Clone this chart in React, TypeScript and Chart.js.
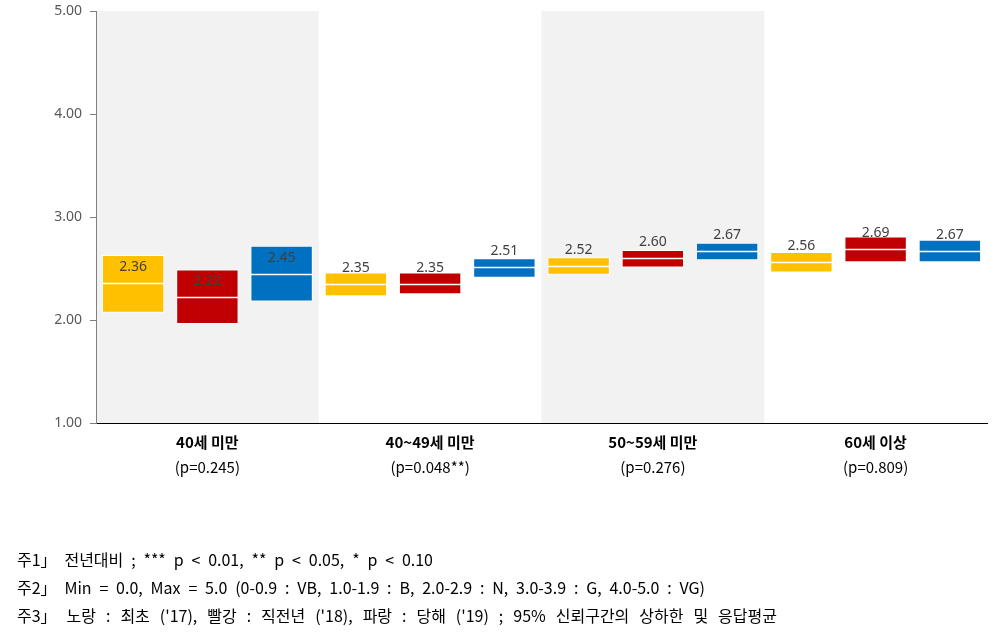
import React, { useEffect, useRef } from 'react';
import { Chart, registerables } from 'chart.js';

Chart.register(...registerables);

const categories = ['40세 미만', '40~49세 미만', '50~59세 미만', '60세 이상'];
const pValues = ['(p=0.245)', '(p=0.048**)', '(p=0.276)', '(p=0.809)'];
const shadedCategories = [0, 2];

const seriesNames = ["최초 ('17)", "직전년 ('18)", "당해 ('19)"];
const seriesColors = ['#FFC000', '#C00000', '#0070C0'];

const mean2017 = [2.36, 2.35, 2.52, 2.56];
const low2017 = [2.07, 2.23, 2.44, 2.46];
const high2017 = [2.63, 2.46, 2.61, 2.66];

const mean2018 = [2.22, 2.35, 2.60, 2.69];
const low2018 = [1.96, 2.25, 2.51, 2.56];
const high2018 = [2.49, 2.46, 2.68, 2.81];

const mean2019 = [2.45, 2.51, 2.67, 2.67];
const low2019 = [2.18, 2.41, 2.58, 2.56];
const high2019 = [2.72, 2.60, 2.75, 2.78];

const yTicks = [1, 2, 3, 4, 5];

const footnotes = [
  '주1」 전년대비 ; *** p < 0.01, ** p < 0.05, * p < 0.10',
  '주2」 Min = 0.0, Max = 5.0 (0-0.9 : VB, 1.0-1.9 : B, 2.0-2.9 : N, 3.0-3.9 : G, 4.0-5.0 : VG)',
  "주3」 노랑 : 최초 ('17), 빨강 : 직전년 ('18), 파랑 : 당해 ('19) ; 95% 신뢰구간의 상하한 및 응답평균",
];
const footnoteRight = [433, 705, 777];

const KFONT = "'Noto Sans CJK KR', 'Noto Sans', sans-serif";
const NFONT = "'Noto Sans CJK KR', sans-serif";

export default function App() {
  const ref = useRef<HTMLCanvasElement>(null);

  useEffect(() => {
    const canvas = ref.current;
    if (!canvas) return;
    const lows = [low2017, low2018, low2019];
    const highs = [high2017, high2018, high2019];
    const means = [mean2017, mean2018, mean2019];

    const bandPlugin = {
      id: 'bands',
      beforeDraw(chart: any) {
        const { ctx, chartArea, scales } = chart;
        const x = scales.x;
        const w = (chartArea.right - chartArea.left) / categories.length;
        ctx.save();
        ctx.fillStyle = '#F2F2F2';
        shadedCategories.forEach((i) => {
          const cx = x.getPixelForValue(i);
          ctx.fillRect(cx - w / 2, chartArea.top, w, chartArea.bottom - chartArea.top);
        });
        ctx.restore();
      },
    };

    const meanPlugin = {
      id: 'means',
      afterDatasetsDraw(chart: any) {
        const { ctx, scales } = chart;
        const y = scales.y;
        ctx.save();
        means.forEach((arr, i) => {
          const meta = chart.getDatasetMeta(i);
          meta.data.forEach((bar: any, j: number) => {
            const p = bar.getProps(['x', 'width'], true);
            const yy = Math.round(y.getPixelForValue(arr[j])) + 0.5;
            ctx.strokeStyle = '#FFFFFF';
            ctx.lineWidth = 1.5;
            ctx.beginPath();
            ctx.moveTo(p.x - p.width / 2, yy);
            ctx.lineTo(p.x + p.width / 2, yy);
            ctx.stroke();
            ctx.fillStyle = '#404040';
            ctx.font = "14px 'Noto Sans', sans-serif";
            ctx.textAlign = 'center';
            ctx.textBaseline = 'middle';
            ctx.fillText(arr[j].toFixed(2), p.x, yy - 16);
          });
        });
        ctx.restore();
      },
    };

    const textPlugin = {
      id: 'texts',
      afterDraw(chart: any) {
        const { ctx, scales } = chart;
        const x = scales.x;
        ctx.save();
        ctx.fillStyle = '#000000';
        ctx.textAlign = 'center';
        ctx.textBaseline = 'middle';
        categories.forEach((c, i) => {
          const cx = x.getPixelForValue(i);
          ctx.font = `bold 15px ${KFONT}`;
          ctx.fillText(c, cx, 442);
          ctx.font = `15px ${KFONT}`;
          ctx.fillText(pValues[i], cx, 467);
        });
        ctx.textAlign = 'left';
        ctx.font = `16px ${NFONT}`;
        const ys = [560, 588, 616];
        footnotes.forEach((t, i) => {
          const target = footnoteRight[i] - 17;
          (ctx as any).wordSpacing = '0px';
          const w = ctx.measureText(t).width;
          const n = t.split(' ').length - 1;
          ctx.save();
          if (w < target && n > 0) {
            (ctx as any).wordSpacing = `${(target - w) / n}px`;
            ctx.fillText(t, 17, ys[i]);
          } else {
            ctx.translate(17, 0);
            ctx.scale(target / w, 1);
            ctx.fillText(t, 0, ys[i]);
          }
          ctx.restore();
        });
        ctx.restore();
      },
    };

    const chart = new Chart(canvas, {
      type: 'bar',
      data: {
        labels: categories,
        datasets: seriesNames.map((name, i) => ({
          label: name,
          data: lows[i].map((lo, j) => [lo, highs[i][j]]),
          backgroundColor: seriesColors[i],
          borderColor: '#FFFFFF',
          borderWidth: 1,
          borderSkipped: false,
          categoryPercentage: 1.0,
          barPercentage: 0.84,
        })),
      },
      options: {
        animation: false,
        responsive: false,
        devicePixelRatio: 1,
        layout: { padding: { top: 11, right: 17, left: 0, bottom: 0 } },
        plugins: { legend: { display: false }, tooltip: { enabled: false } },
        scales: {
          x: {
            grid: { display: false },
            border: { color: '#000000', width: 1 },
            ticks: { display: false },
            afterFit: (s: any) => {
              s.height = 636 - 423;
              s.paddingLeft = 0;
              s.paddingRight = 0;
            },
          },
          y: {
            min: yTicks[0],
            max: yTicks[yTicks.length - 1],
            afterBuildTicks: (s: any) => {
              s.ticks = yTicks.map((v) => ({ value: v }));
            },
            ticks: {
              callback: (v: any) => Number(v).toFixed(2),
              color: '#595959',
              font: { size: 14, family: "'Noto Sans', sans-serif" },
              padding: 8,
            },
            grid: { drawOnChartArea: false, drawTicks: true, tickLength: 6, color: '#808080' },
            border: { color: '#808080', width: 1 },
            afterFit: (s: any) => {
              s.width = 96;
              s.paddingTop = 0;
              s.paddingBottom = 0;
            },
          },
        },
      },
      plugins: [bandPlugin, meanPlugin, textPlugin],
    });
    return () => chart.destroy();
  }, []);

  return (
    <div style={{ position: 'fixed', left: 0, top: 0, width: 1004, height: 636, background: '#fff' }}>
      <canvas ref={ref} width={1004} height={636} style={{ width: 1004, height: 636, display: 'block' }} />
    </div>
  );
}
